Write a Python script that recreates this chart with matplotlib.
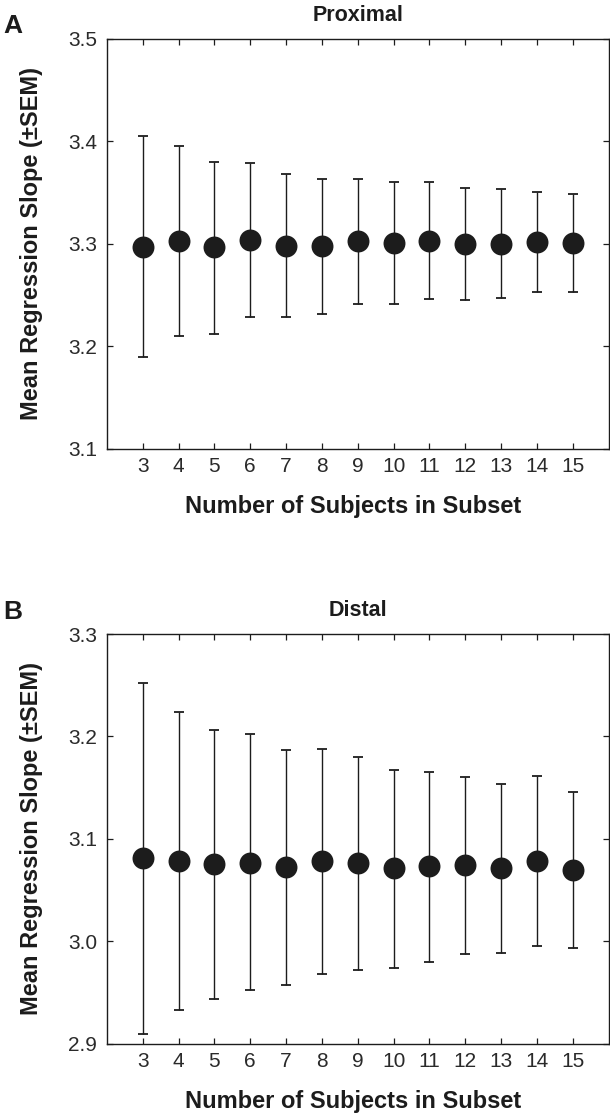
import matplotlib
matplotlib.use("Agg")
import matplotlib.pyplot as plt
from matplotlib import font_manager

# ---------------- data ----------------
subjects = [3, 4, 5, 6, 7, 8, 9, 10, 11, 12, 13, 14, 15]

prox_mean = [3.297, 3.303, 3.297, 3.304, 3.298, 3.298, 3.303, 3.301, 3.303, 3.300, 3.300, 3.302, 3.301]
prox_upper = [3.405, 3.395, 3.380, 3.379, 3.368, 3.363, 3.363, 3.360, 3.360, 3.354, 3.353, 3.351, 3.349]
prox_lower = [3.189, 3.210, 3.212, 3.228, 3.228, 3.231, 3.241, 3.241, 3.246, 3.245, 3.247, 3.253, 3.253]

dist_mean = [3.081, 3.078, 3.075, 3.076, 3.072, 3.078, 3.076, 3.071, 3.073, 3.074, 3.071, 3.078, 3.069]
dist_upper = [3.252, 3.224, 3.206, 3.202, 3.187, 3.188, 3.180, 3.167, 3.165, 3.160, 3.153, 3.161, 3.146]
dist_lower = [2.909, 2.933, 2.943, 2.952, 2.957, 2.968, 2.972, 2.974, 2.980, 2.987, 2.988, 2.995, 2.993]

prox_yticks = [3.1, 3.2, 3.3, 3.4, 3.5]
dist_yticks = [2.9, 3.0, 3.1, 3.2, 3.3]
prox_yticklabels = ["3.1", "3.2", "3.3", "3.4", "3.5"]
dist_yticklabels = ["2.9", "3.0", "3.1", "3.2", "3.3"]

titles = ["Proximal", "Distal"]
panel_letters = ["A", "B"]
xlabel = "Number of Subjects in Subset"
ylabel = "Mean Regression Slope (\u00b1SEM)"

# ---------------- fonts ----------------
avail = {f.name for f in font_manager.fontManager.ttflist}
narrow = "Liberation Sans Narrow" if "Liberation Sans Narrow" in avail else "Liberation Sans"
fam = [narrow, "DejaVu Sans"]
plt.rcParams["font.family"] = fam

ink = "#1c1c1c"

fig = plt.figure(figsize=(6.10, 11.15), dpi=100)

axA = fig.add_axes([107 / 610, 1 - 448.5 / 1115, 501.5 / 610, 409.5 / 1115])
axB = fig.add_axes([107 / 610, 1 - 1043.5 / 1115, 501.5 / 610, 409.5 / 1115])

panels = [
    (axA, prox_mean, prox_upper, prox_lower, prox_yticks, prox_yticklabels),
    (axB, dist_mean, dist_upper, dist_lower, dist_yticks, dist_yticklabels),
]

for i, (ax, m, up, lo, yt, ytl) in enumerate(panels):
    err_lo = [a - b for a, b in zip(m, lo)]
    err_hi = [b - a for a, b in zip(m, up)]
    ax.errorbar(subjects, m, yerr=[err_lo, err_hi], fmt="none",
                ecolor=ink, elinewidth=1.0, capsize=3.4, capthick=1.3, zorder=2)
    ax.plot(subjects, m, "o", color=ink, markersize=15.8,
            markeredgewidth=0, linestyle="none", zorder=3)
    ax.set_xlim(2, 16)
    ax.set_ylim(yt[0], yt[-1])
    ax.set_xticks(subjects)
    ax.set_xticklabels([str(s) for s in subjects])
    ax.set_yticks(yt)
    ax.set_yticklabels(ytl)
    ax.tick_params(direction="in", length=4.5, width=0.9, colors=ink,
                   top=True, right=True, labelsize=15)
    ax.tick_params(axis="y", pad=7)
    ax.tick_params(axis="x", pad=6)
    for lab in ax.get_xticklabels() + ax.get_yticklabels():
        lab.set_color("#2a2a2a")
    for sp in ax.spines.values():
        sp.set_linewidth(1.0)
        sp.set_color(ink)
    ax.set_title(titles[i], fontsize=15.5, fontweight="bold", color=ink, pad=13)
    ax.set_xlabel(xlabel, fontsize=17, fontweight="bold", color=ink)
    ax.set_ylabel(ylabel, fontsize=17, fontweight="bold", color=ink)
    ax.xaxis.set_label_coords(0.49, -0.113)
    ax.yaxis.set_label_coords(-0.128, 0.5)

fig.text(3 / 610, 1 - 26 / 1115, panel_letters[0], fontsize=19, fontweight="bold",
         color=ink, va="center", ha="left")
fig.text(3 / 610, 1 - 612 / 1115, panel_letters[1], fontsize=19, fontweight="bold",
         color=ink, va="center", ha="left")

fig.savefig("out.png", dpi=100, facecolor="white")
